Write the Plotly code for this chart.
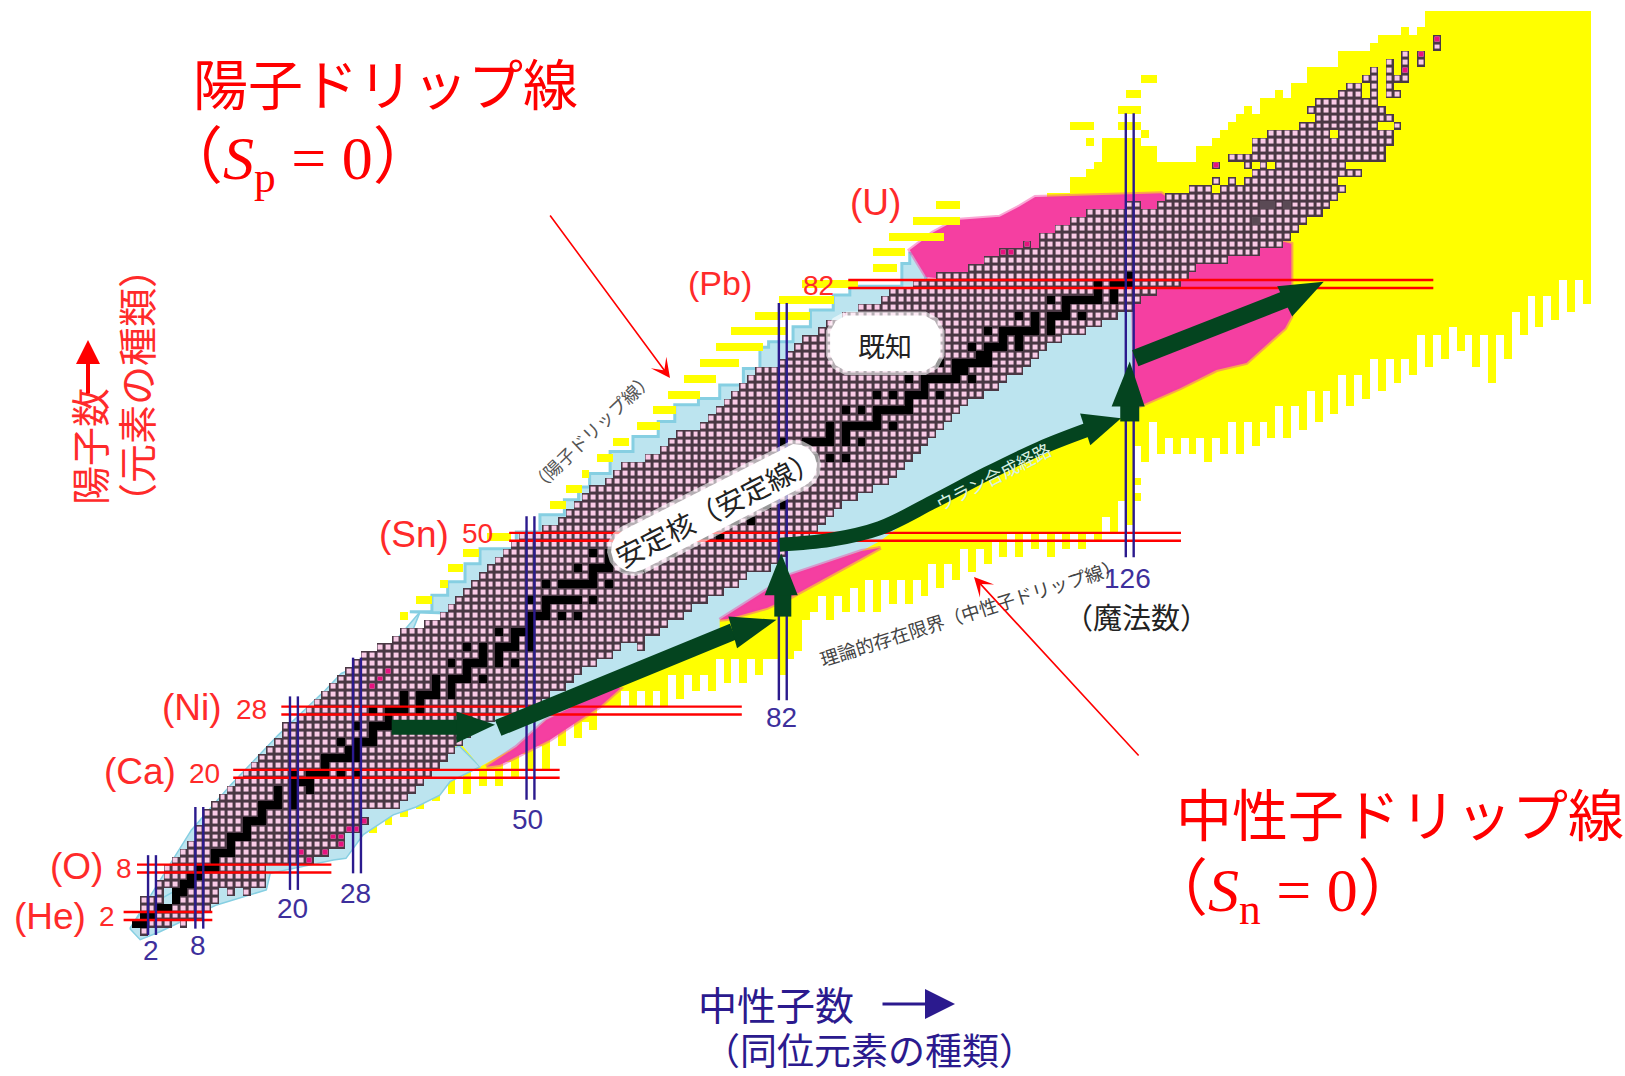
import numpy as np
import plotly.graph_objects as go

# Chart of nuclides: every cell sits on (N, Z).
KNOWN_Z = list(range(0, 110))
KNOWN_LEFT = [
    1, 0, 1, 1, 1, 3, 3, 4, 4, 5, 6, 7, 8, 8, 9, 9, 10, 11, 12, 13,
    14, 15, 16, 17, 18, 19, 19, 21, 22, 23, 24, 25, 26, 27, 28, 29, 31, 33, 34, 37,
    39, 40, 41, 42, 43, 44, 45, 46, 47, 48, 49, 52, 54, 55, 56, 57, 58, 60, 61, 62,
    65, 67, 68, 69, 72, 73, 74, 75, 76, 77, 78, 79, 82, 83, 84, 85, 87, 88, 90, 92,
    95, 96, 99, 102, 106, 108, 110, 115, 115, 117, 119, 121, 130, 131, 134, 137, 142, 141, 139, 142,
    142, 144, 148, 150, 149, 150, 153, 154, 156, 157,
]
KNOWN_RIGHT = [
    1, 6, 8, 9, 10, 14, 16, 16, 16, 22, 24, 26, 26, 28, 29, 28, 33, 34, 35, 36,
    37, 38, 39, 40, 41, 42, 43, 45, 48, 51, 52, 54, 55, 56, 58, 60, 64, 64, 66, 67,
    69, 70, 72, 74, 76, 77, 80, 81, 82, 84, 85, 86, 87, 88, 89, 91, 93, 95, 96, 97,
    98, 99, 100, 101, 102, 103, 104, 105, 107, 109, 110, 112, 113, 114, 115, 117, 120, 122, 124, 126,
    127, 129, 132, 133, 134, 138, 142, 145, 146, 147, 148, 150, 151, 152, 153, 152, 155, 153, 158, 158,
    159, 159, 160, 159, 158, 157, 157, 157, 157, 157,
]
KNOWN_EXTRA = [
    (87, 113), (92, 126), (92, 127), (97, 137), (107, 159), (106, 159), (106, 160),
    (108, 159), (108, 160), (108, 161), (109, 159), (109, 161), (110, 159), (110, 161),
    (110, 163), (111, 161), (111, 163), (112, 165), (113, 165),
]
KNOWN_HOLES = [
    (1, 5), (4, 4), (5, 4), (5, 11), (5, 13), (36, 62), (36, 63), (94, 137), (95, 138), (95, 140),
    (97, 142), (97, 144), (101, 152), (102, 158), (102, 159), (106, 156), (107, 156),
]
UNSTABLE_MARK = [
    (9, 22), (10, 21), (10, 24), (11, 26), (12, 25), (12, 26), (13, 27), (13, 28), (14, 29),
    (31, 30), (32, 31), (33, 32), (86, 110), (86, 111), (87, 113), (97, 137), (109, 161),
    (111, 163), (113, 165),
]
LONG_LIVED = [(90, 142), (92, 143), (92, 144), (92, 146)]

STABLE_N = {
    1: [0, 1], 2: [1, 2], 3: [3, 4], 4: [5], 5: [5, 6], 6: [6, 7], 7: [7, 8], 8: [8, 9, 10], 9: [10],
    10: [10, 11, 12], 11: [12], 12: [12, 13, 14], 13: [14], 14: [14, 15, 16], 15: [16],
    16: [16, 17, 18, 20], 17: [18, 20], 18: [18, 20, 22], 19: [20, 21, 22],
    20: [20, 22, 23, 24, 26, 28], 21: [24], 22: [24, 25, 26, 27, 28], 23: [27, 28],
    24: [26, 28, 29, 30], 25: [30], 26: [28, 30, 31, 32], 27: [32], 28: [30, 32, 33, 34, 36],
    29: [34, 36], 30: [34, 36, 37, 38, 40], 31: [38, 40], 32: [38, 40, 41, 42, 44], 33: [42],
    34: [40, 42, 43, 44, 46, 48], 35: [44, 46], 36: [42, 44, 46, 47, 48, 50], 37: [48, 50],
    38: [46, 48, 49, 50], 39: [50], 40: [50, 51, 52, 54, 56], 41: [52],
    42: [50, 52, 53, 54, 55, 56, 58], 44: [52, 54, 55, 56, 57, 58, 60], 45: [58],
    46: [56, 58, 59, 60, 62, 64], 47: [60, 62], 48: [58, 60, 62, 63, 64, 65, 66, 68], 49: [64, 66],
    50: [62, 64, 65, 66, 67, 68, 69, 70, 72, 74], 51: [70, 72], 52: [68, 70, 71, 72, 73, 74, 76, 78],
    53: [74], 54: [70, 72, 74, 75, 76, 77, 78, 80, 82], 55: [78], 56: [74, 76, 78, 79, 80, 81, 82],
    57: [81, 82], 58: [78, 80, 82, 84], 59: [82], 60: [82, 83, 84, 85, 86, 88, 90],
    62: [82, 85, 86, 87, 88, 90, 92], 63: [88, 90], 64: [88, 90, 91, 92, 93, 94, 96], 65: [94],
    66: [90, 92, 94, 95, 96, 97, 98], 67: [98], 68: [94, 96, 98, 99, 100, 102], 69: [100],
    70: [98, 100, 101, 102, 103, 104, 106], 71: [104, 105], 72: [102, 104, 105, 106, 107, 108],
    73: [107, 108], 74: [106, 108, 109, 110, 112], 75: [110, 112], 76: [108, 110, 111, 112, 113, 114, 116],
    77: [114, 116], 78: [112, 114, 116, 117, 118, 120], 79: [118], 80: [116, 118, 119, 120, 121, 122, 124],
    81: [122, 124], 82: [122, 124, 125, 126], 83: [126],
}

# Theoretical limit: lowest Z of each yellow column (N = 40 .. 184)
YELLOW_LOW = [
    18, 21, 18, 21, 19, 21, 19, 22, 20, 23,
    21, 24, 21, 26, 24, 27, 25, 27, 26, 29,
    29, 29, 31, 29, 31, 29, 31, 29, 33, 30,
    33, 31, 33, 31, 35, 32, 35, 32, 35, 33,
    35, 35, 33, 35, 36, 40, 41, 43, 40, 43,
    41, 44, 41, 45, 41, 45, 42, 45, 42, 45,
    43, 47, 44, 47, 45, 49, 46, 49, 47, 50,
    48, 51, 48, 51, 49, 51, 48, 51, 49, 51,
    49, 51, 50, 53, 51, 55, 52, 62, 60, 65,
    61, 63, 61, 63, 61, 63, 60, 63, 61, 65,
    61, 65, 62, 65, 63, 67, 63, 67, 64, 69,
    65, 69, 66, 71, 67, 71, 68, 73, 69, 73,
    70, 73, 71, 76, 72, 76, 73, 77, 74, 76,
    72, 76, 70, 76, 73, 79, 76, 81, 77, 81,
    78, 83, 79, 83, 80,
]
# Top of the yellow columns (N = 116 .. 184)
YELLOW_TOP = [
    93, 93, 93, 95, 95, 96, 97, 100, 100, 100, 100, 100, 99, 99, 97, 97, 97, 97, 97,
    99, 99, 100, 101, 102, 103, 104, 103, 105, 105, 106, 105, 107, 107, 109, 109, 109, 109,
    111, 111, 111, 111, 112, 113, 113, 113, 114, 113, 114,
    116, 116, 116, 116, 116, 116, 116, 116, 116, 116, 116, 116, 116, 116, 116, 116, 116, 116, 116, 116, 116, 116, 116,
]
YELLOW_DOTS = [(13, 30), (14, 32), (15, 34), (16, 36), (17, 38), (55, 127), (57, 127)]
# Proton side bars: Z, first N, last N
YELLOW_BARS = [
    (40, 34, 34), (42, 36, 37), (44, 39, 39), (46, 40, 41), (48, 42, 43), (50, 45, 47),
    (54, 53, 54), (56, 55, 56), (58, 57, 57), (60, 59, 60), (62, 61, 62), (64, 64, 66),
    (66, 66, 68), (68, 68, 71), (70, 70, 73), (72, 72, 76), (74, 74, 79), (76, 76, 82),
    (78, 79, 85), (80, 82, 88), (82, 85, 91), (84, 94, 96), (86, 94, 97), (88, 96, 102),
    (90, 99, 104), (92, 102, 104), (102, 119, 121), (100, 121, 121), (101, 128, 128),
    (102, 125, 127), (104, 125, 127), (106, 126, 127), (108, 128, 129),
]

BLUE_PROTON_LOW_N = [-0.8, 7, 12, 18, 24, 26, 30.5, 33, 36, 33, 20, 5]
BLUE_PROTON_LOW_Z = [0.4, 12.9, 18.6, 24.9, 30.6, 32.7, 34.6, 37, 40.5, 33, 20, 5]
BLUE_STAIR_N = [34.7, 37.5, 39.5, 41.7, 43.6, 48.2, 51.2, 54.3, 56.1, 57.5, 60.1, 63, 66.2, 68.3, 71.3, 74, 77,
                79.1, 80.2, 83.3, 85.5, 88.4, 90.5, 97.1, 97.1, 98.1, 100.2]
BLUE_STAIR_Z = [40.5, 42.6, 44.3, 46.6, 48.5, 50.6, 52.8, 54.7, 56.3, 58, 60.8, 62.7, 64.6, 66.7, 67.5, 69.2, 71.3,
                74, 74.7, 76.6, 78.7, 80.6, 81.7, 83.1, 84.6, 85.9, 82.9]
BLUE_STAIR_BACK_N = [95, 50]
BLUE_STAIR_BACK_Z = [70, 40]
BLUE_TAIL_N = [-0.8, 0.5, 3, 10.2, 16.5, 17, 25, 26.6, 28.8, 32.6, 35.5, 38.5, 39.8, 43.6, 41, 30, 10, 1]
BLUE_TAIL_Z = [0.4, -1, 0, 3.4, 5.3, 7.4, 9.1, 9.3, 12.3, 14.8, 15.8, 17.3, 19, 20.9, 23.5, 20, 8, 3]
BLUE_NEUTRON_N = [43.6, 48.2, 52, 57, 60.5, 74, 74, 83.8, 92, 94.4, 101, 107.9, 114.6, 120, 124.9, 126.4, 126.4, 100, 70, 45, 41]
BLUE_NEUTRON_Z = [20.9, 23.4, 26.8, 29.3, 31.7, 36.9, 39.5, 45.4, 48.2, 49.5, 54.4, 58, 61.2, 63.5, 65, 65, 80, 70, 50, 30, 24]

PINK_LOW_N = [44.4, 48.2, 52, 57, 60.9, 61.4, 58.8, 52.5, 46.1]
PINK_LOW_Z = [20.9, 23.4, 26.8, 29.3, 31, 30.8, 28.5, 24.3, 21.1]
PINK_MID_N = [74, 83, 92, 94.4, 83.1, 80, 75]
PINK_MID_Z = [39.5, 45.2, 48.2, 48.6, 42.4, 41, 39.6]
PINK_TOP_N = [100.2, 98.1, 101, 104, 109.5, 112, 114, 130, 135, 146.5, 146.5, 145.7, 140.8, 137, 132.4, 126.7, 126.4]
PINK_TOP_Z = [82.9, 86.3, 88.5, 90.1, 90.5, 91.8, 93, 93.5, 90, 87.1, 77.9, 76.4, 72, 71.1, 68.8, 66.3, 80]

# Magic numbers: value, start and end of the double lines
MAGIC_Z = [2, 8, 20, 28, 50, 82]
MAGIC_Z_FROM = [-1.6, 0.1, 12.3, 18.4, 47.3, 90.3]
MAGIC_Z_TO = [9.65, 24.75, 53.7, 76.8, 132.5, 164.5]
MAGIC_N = [2, 8, 20, 28, 50, 82, 126]
MAGIC_N_FROM = [-0.4, 0.4, 5.3, 7.4, 16.7, 29.3, 47.4]
MAGIC_N_TO = [9.7, 15.8, 29.8, 34.7, 52.6, 79.6, 103.6]

# Route of the synthesis, shafts and heads
SHAFTS = [
    ([32.4, 41.5], [25.9, 25.9], 15),
    ([45.9, 75.7], [25.8, 38], 17),
    ([82, 82], [39.9, 43], 17),
    ([81.6, 88, 94.3, 101, 107.9, 114.6, 120.5], [49, 49.6, 51.1, 54.4, 58, 61.2, 63.5], 14),
    ([126, 126], [64.6, 67], 19),
    ([126.7, 147.6], [72.6, 80.8], 17),
]
HEADS = [
    ([40.6, 40.6, 45.5], [27.9, 23.9, 26.2]),
    ([75.1, 76.2, 81.2], [39.9, 35.9, 39.5]),
    ([79.7, 83.9, 81.8], [42.6, 42.6, 47.9]),
    ([119.7, 121, 124.9], [65.6, 61.6, 65]),
    ([123.7, 127.9, 126], [66.5, 66.5, 72.2]),
    ([144.7, 146.6, 150.6], [81.7, 77.9, 82.3]),
]

LABEL_KNOWN_N = [90, 100, 101.3, 102, 102, 101.3, 100, 90, 88.7, 88, 88, 88.7]
LABEL_KNOWN_Z = [78, 78, 77.3, 76, 73, 71.7, 71, 71, 71.7, 73, 76, 77.3]

RED = "#FF2A2A"
NAVY = "#2B1A8E"
TICK_BLUE = "#3D2F9C"
CJK = "Noto Sans CJK JP"
SANS = "Liberation Sans"
MATH = "Liberation Serif, Noto Sans CJK JP"


def to_n(px):
    return 2 + (px - 152) / 7.885


def to_z(py):
    return 2 + (916 - py) / 7.9


n_axis = np.arange(-2, 186)
z_axis = np.arange(-2, 118)


def empty_mask():
    return np.full((len(z_axis), len(n_axis)), np.nan)


def mark(mask, z, n):
    mask[z - z_axis[0], n - n_axis[0]] = 1


def cell_layer(mask, color, xaxis="x2", yaxis="y2", gap=0):
    return go.Heatmap(
        x=n_axis, y=z_axis, z=mask, zmin=0, zmax=1,
        colorscale=[[0, color], [1, color]], showscale=False, hoverinfo="skip",
        xgap=gap, ygap=gap, xaxis=xaxis, yaxis=yaxis,
    )


def area(xs, ys, color, edge=None, width=0, xaxis="x", yaxis="y"):
    return go.Scatter(
        x=xs + xs[:1], y=ys + ys[:1], mode="lines", fill="toself", fillcolor=color,
        line=dict(color=edge or color, width=width),
        hoverinfo="skip", showlegend=False, xaxis=xaxis, yaxis=yaxis,
    )


def rule(xs, ys, color, width, shape="linear"):
    return go.Scatter(
        x=xs, y=ys, mode="lines", line=dict(color=color, width=width, shape=shape),
        hoverinfo="skip", showlegend=False, xaxis="x2", yaxis="y2",
    )


def stair(xs, ys):
    out_x, out_y = [xs[0]], [ys[0]]
    for x, y in zip(xs[1:], ys[1:]):
        out_x += [x, x]
        out_y += [out_y[-1], y]
    return out_x, out_y


def capsule(x0, y0, x1, y1, r):
    # rounded white label behind rotated text, given in page pixels
    base = np.arctan2(y1 - y0, x1 - x0)
    turn = np.linspace(np.pi / 2, 3 * np.pi / 2, 9)
    px = [x0 + r * np.cos(base + t) for t in turn] + [x1 + r * np.cos(base + t - np.pi) for t in turn]
    py = [y0 + r * np.sin(base + t) for t in turn] + [y1 + r * np.sin(base + t - np.pi) for t in turn]
    return [to_n(p) for p in px], [to_z(p) for p in py]


# masks
known = empty_mask()
for z, left, right in zip(KNOWN_Z, KNOWN_LEFT, KNOWN_RIGHT):
    for n in range(left, right + 1):
        mark(known, z, n)
for z, n in KNOWN_EXTRA:
    mark(known, z, n)
for z, n in KNOWN_HOLES:
    known[z - z_axis[0], n - n_axis[0]] = np.nan

stable = empty_mask()
for z, ns in STABLE_N.items():
    for n in ns:
        mark(stable, z, n)

flagged = empty_mask()
for z, n in UNSTABLE_MARK:
    mark(flagged, z, n)

long_lived = empty_mask()
for z, n in LONG_LIVED:
    mark(long_lived, z, n)

yellow = empty_mask()
for i, low in enumerate(YELLOW_LOW):
    n = 40 + i
    if n >= 116:
        top = YELLOW_TOP[n - 116]
    else:
        top = next(z for z, r in zip(KNOWN_Z, KNOWN_RIGHT) if r >= n)
    for z in range(low, top + 1):
        mark(yellow, z, n)
for z, n in YELLOW_DOTS:
    mark(yellow, z, n)

bars = empty_mask()
for z, first, last in YELLOW_BARS:
    for n in range(first, last + 1):
        mark(bars, z, n)

stair_n, stair_z = stair(BLUE_STAIR_N, BLUE_STAIR_Z)

fig = go.Figure()
fig.add_trace(cell_layer(yellow, "#FFFF00", "x", "y"))
fig.add_trace(area(BLUE_PROTON_LOW_N, BLUE_PROTON_LOW_Z, "#BCE4EF", "#86CFE2", 1.5))
fig.add_trace(area(stair_n + BLUE_STAIR_BACK_N, stair_z + BLUE_STAIR_BACK_Z, "#BCE4EF", "#86CFE2", 3))
fig.add_trace(area(BLUE_TAIL_N, BLUE_TAIL_Z, "#BCE4EF", "#86CFE2", 1.5))
fig.add_trace(area(BLUE_NEUTRON_N, BLUE_NEUTRON_Z, "#BCE4EF"))
for xs, ys in [(PINK_LOW_N, PINK_LOW_Z), (PINK_MID_N, PINK_MID_Z), (PINK_TOP_N, PINK_TOP_Z)]:
    fig.add_trace(area(xs, ys, "#F53FA1", "rgba(245,63,161,0.45)", 4))

fig.add_trace(cell_layer(bars, "#FFFF00"))
fig.add_trace(cell_layer(known, "#4A3844"))
fig.add_trace(cell_layer(known, "#F9CBE6", gap=3))
fig.add_trace(cell_layer(flagged, "#E8127F", gap=3))
fig.add_trace(cell_layer(stable, "#000000"))
fig.add_trace(cell_layer(long_lived, "#5A4A55"))

for z, a, b in zip(MAGIC_Z, MAGIC_Z_FROM, MAGIC_Z_TO):
    for offset in (-0.5, 0.5):
        fig.add_trace(rule([a, b], [z + offset, z + offset], "#FF0000", 2.4))
for n, a, b in zip(MAGIC_N, MAGIC_N_FROM, MAGIC_N_TO):
    for offset in (-0.5, 0.5):
        fig.add_trace(rule([n + offset, n + offset], [a, b], NAVY, 2.4))

stable_box_n, stable_box_z = capsule(633, 550, 795, 466, 22)
for xs, ys in [(LABEL_KNOWN_N, LABEL_KNOWN_Z), (stable_box_n, stable_box_z)]:
    fig.add_trace(area(xs, ys, "#FFFFFF", "rgba(255,255,255,0.6)", 8, "x2", "y2"))

for xs, ys, width in SHAFTS:
    fig.add_trace(rule(xs, ys, "#04441F", width, "spline"))
for xs, ys in HEADS:
    fig.add_trace(area(xs, ys, "#04441F", xaxis="x2", yaxis="y2"))


def label(text, px, py, size, color, family=CJK, angle=0):
    fig.add_annotation(
        text=text, x=px / 1625, y=1 - py / 1076, xref="paper", yref="paper",
        showarrow=False, textangle=angle, xanchor="center", yanchor="middle",
        font=dict(size=size, color=color, family=family),
    )


def pointer(x0, y0, x1, y1, color, width, head=2, headsize=1.0):
    fig.add_annotation(
        text="", x=x1 / 1625, y=1 - y1 / 1076, xref="paper", yref="paper",
        ax=x0 - x1, ay=y0 - y1, axref="pixel", ayref="pixel", showarrow=True,
        arrowcolor=color, arrowwidth=width, arrowhead=head, arrowsize=headsize,
    )


label("陽子ドリップ線", 385, 81, 55, "#FF0000")
label("中性子ドリップ線", 1400, 811, 56, "#FF0000")
label("（<i>S</i><sub>p</sub> = 0）", 298, 163, 62, "#FF0000", MATH)
label("（<i>S</i><sub>n</sub> = 0）", 1283, 894, 62, "#FF0000", MATH)

for text, px, py, size in [("(He)", 50, 916, 37), ("(O)", 76, 866, 37), ("(Ca)", 140, 771, 37), ("(Ni)", 192, 707, 37),
                           ("(Sn)", 414, 534, 37), ("(Pb)", 720, 283, 34), ("(U)", 875, 203, 37)]:
    label(text, px, py, size, RED, SANS)
for text, px, py in [("2", 107, 916), ("8", 124, 868), ("20", 204, 773), ("28", 251, 709),
                     ("50", 477, 533), ("82", 818, 285)]:
    label(text, px, py, 28, RED, SANS)
for text, px, py in [("2", 151, 950), ("8", 198, 945), ("20", 292, 908), ("28", 355, 893),
                     ("50", 527, 819), ("82", 781, 717), ("126", 1127, 578)]:
    label(text, px, py, 28, TICK_BLUE, SANS)

label("（魔法数）", 1136, 616, 29, "#222222")
label("既知", 885, 345, 27, "#222222")
label("安定核（安定線）", 717, 507, 28, "#222222", angle=-27)
label("（陽子ドリップ線）", 591, 431, 18, "#555555", angle=-44)
label("理論的存在限界（中性子ドリップ線）", 970, 612, 18.5, "#444444", angle=-17.5)
label("ウラン合成経路", 993, 476, 18, "#D8EFE0", angle=-27)

label("陽子数", 88, 447, 39, RED, angle=-90)
label("（元素の種類）", 135, 386, 39, RED, angle=-90)
label("中性子数", 776, 1003, 39, NAVY)
label("（同位元素の種類）", 870, 1049, 37, NAVY)

pointer(549, 214, 670, 378, "#FF0000", 1.6, head=3, headsize=2)
pointer(1140, 757, 974, 577, "#FF0000", 1.6, head=3, headsize=2)
pointer(88, 395, 88, 340, "#FF0000", 4, head=2, headsize=1.2)
pointer(881, 1004, 955, 1004, NAVY, 3, head=2, headsize=2)

hidden = dict(visible=False, fixedrange=True)
fig.update_layout(
    width=1625, height=1076, margin=dict(l=0, r=0, t=0, b=0),
    paper_bgcolor="white", plot_bgcolor="rgba(0,0,0,0)", showlegend=False,
    xaxis=dict(range=[to_n(0), to_n(1625)], **hidden),
    yaxis=dict(range=[to_z(1076), to_z(0)], **hidden),
    xaxis2=dict(range=[to_n(0), to_n(1625)], overlaying="x", anchor="y2", **hidden),
    yaxis2=dict(range=[to_z(1076), to_z(0)], overlaying="y", anchor="x2", **hidden),
)

fig.write_html("out.html", config=dict(displayModeBar=False),
               post_script="document.body.style.margin='0';")
